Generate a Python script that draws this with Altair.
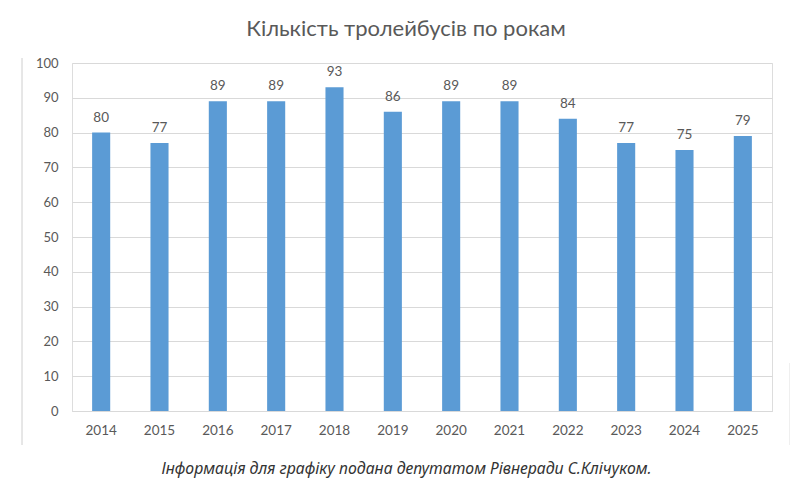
import altair as alt
import pandas as pd

years = ["2014", "2015", "2016", "2017", "2018", "2019", "2020", "2021", "2022", "2023", "2024", "2025"]
counts = [80, 77, 89, 89, 93, 86, 89, 89, 84, 77, 75, 79]
title_text = "Кількість тролейбусів по рокам"
caption_text = "Інформація для графіку подана депутатом Рівнеради С.Клічуком."

df = pd.DataFrame({"year": years, "count": counts})

GREY = "#595959"
FONT = "Lato"

x_enc = alt.X(
    "year:N",
    sort=years,
    scale=alt.Scale(paddingInner=0.69, paddingOuter=0.345),
    axis=alt.Axis(
        title=caption_text,
        titleFont="Noto Sans",
        titleFontStyle="italic",
        titleFontWeight="normal",
        titleFontSize=15.8,
        titleColor="#333333",
        titleX=334,
        titleY=57,
        titleBaseline="middle",
        titleAnchor="middle",
        titleAlign="center",
        labelAngle=0,
        labelFont=FONT,
        labelFontSize=13.5,
        labelColor=GREY,
        labelPadding=12,
        ticks=False,
        domainColor="#D9D9D9",
    ),
)

y_enc = alt.Y(
    "count:Q",
    scale=alt.Scale(domain=[0, 100]),
    axis=alt.Axis(
        title=None,
        values=list(range(0, 101, 10)),
        labelFont=FONT,
        labelFontSize=13,
        labelColor=GREY,
        labelPadding=14,
        ticks=False,
        domain=False,
        gridColor="#D9D9D9",
    ),
)

base = alt.Chart(df).encode(x=x_enc, y=y_enc)

bars = base.mark_bar(color="#5B9BD5")
labels = base.mark_text(
    baseline="bottom", dy=-8, font=FONT, fontSize=13.5, color=GREY
).encode(text="count:Q")

border = alt.Chart(df).mark_rule(color="#E6E6E6", strokeWidth=1).encode(
    x=alt.value(-50), y=alt.value(-5), y2=alt.value(382)
)
border_r = alt.Chart(df).mark_rule(color="#EEEEEE", strokeWidth=1).encode(
    x=alt.value(718), y=alt.value(300), y2=alt.value(382)
)

chart = (
    alt.layer(bars, labels, border, border_r)
    .properties(
        width=700,
        height=348,
        autosize=alt.AutoSizeParams(type="none"),
        padding={"left": 64, "top": 55, "right": 18, "bottom": 72},
        title=alt.TitleParams(
            title_text,
            font=FONT,
            fontSize=22,
            fontWeight="normal",
            color=GREY,
            anchor="middle",
            frame="group",
            baseline="bottom",
            dx=-16,
            dy=24,
            offset=18,
        ),
    )
    .configure_view(stroke=None)
    .configure(background="white")
)

chart.save("out.html", embed_options={"renderer": "svg", "actions": False})
